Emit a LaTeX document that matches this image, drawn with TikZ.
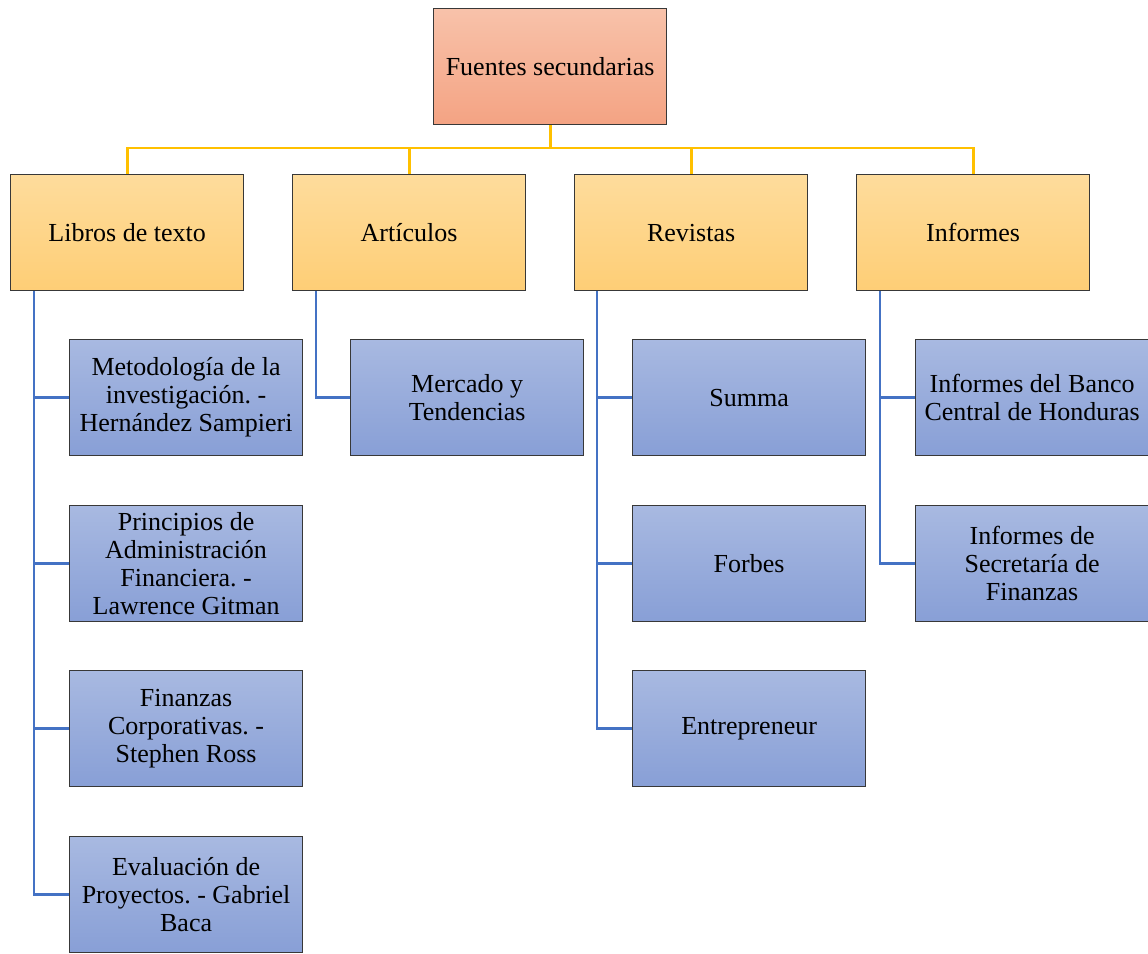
\documentclass[tikz,border=0pt]{standalone}
\usepackage{fontspec}
\setmainfont{Liberation Serif}
\frenchspacing
\begin{document}
\begin{tikzpicture}[x=0.75pt,y=-0.75pt,
  box/.style={draw=black!78,line width=0.9pt,minimum width=174.75pt,minimum height=87pt,inner sep=2pt,align=center,anchor=north west,font=\fontsize{19.5}{21}\selectfont},
  topbox/.style={box,top color=topA,bottom color=topB},
  catbox/.style={box,top color=catA,bottom color=catB},
  leafbox/.style={box,top color=leafA,bottom color=leafB},
  yline/.style={draw=lineY,line width=2.2pt},
  bline/.style={draw=lineB,line width=2.2pt}]
\definecolor{topA}{HTML}{F8C2AA}
\definecolor{topB}{HTML}{F4A383}
\definecolor{catA}{HTML}{FEDC9C}
\definecolor{catB}{HTML}{FECE76}
\definecolor{leafA}{HTML}{A8B9E1}
\definecolor{leafB}{HTML}{889FD6}
\definecolor{lineY}{HTML}{FFC000}
\definecolor{lineB}{HTML}{4472C4}
\useasboundingbox (0,0) rectangle (1148,953);
% nodes
\node[topbox] (top) at (433,8) {Fuentes secundarias};
\node[catbox] (libros) at (10,174) {Libros de texto};
\node[catbox] (art) at (292,174) {Artículos};
\node[catbox] (rev) at (574,174) {Revistas};
\node[catbox] (inf) at (856,174) {Informes};
\node[leafbox] (l1) at (69,339) {Metodología de la\\investigación. -\\Hernández Sampieri};
\node[leafbox] (l2) at (69,505) {Principios de\\Administración\\Financiera. -\\Lawrence Gitman};
\node[leafbox] (l3) at (69,670) {Finanzas\\Corporativas. -\\Stephen Ross};
\node[leafbox] (l4) at (69,836) {Evaluación de\\Proyectos. - Gabriel\\Baca};
\node[leafbox] (a1) at (350,339) {Mercado y\\Tendencias};
\node[leafbox] (r1) at (632,339) {Summa};
\node[leafbox] (r2) at (632,505) {Forbes};
\node[leafbox] (r3) at (632,670) {Entrepreneur};
\node[leafbox] (i1) at (915,339) {Informes del Banco\\Central de Honduras};
\node[leafbox] (i2) at (915,505) {Informes de\\Secretaría de\\Finanzas};
% yellow connectors
\coordinate (bus) at (0,148);
\foreach \c in {libros,art,rev,inf}{
  \draw[yline] (top.south) |- (bus -| \c.north) -- (\c.north);
}
% blue connectors
\coordinate (lx) at (34,0);
\coordinate (ax) at (316,0);
\coordinate (rx) at (597,0);
\coordinate (ix) at (880,0);
\foreach \k in {l1,l2,l3,l4}{\draw[bline] (libros.south -| lx) |- (\k.west);}
\draw[bline] (art.south -| ax) |- (a1.west);
\foreach \k in {r1,r2,r3}{\draw[bline] (rev.south -| rx) |- (\k.west);}
\foreach \k in {i1,i2}{\draw[bline] (inf.south -| ix) |- (\k.west);}
\end{tikzpicture}
\end{document}
